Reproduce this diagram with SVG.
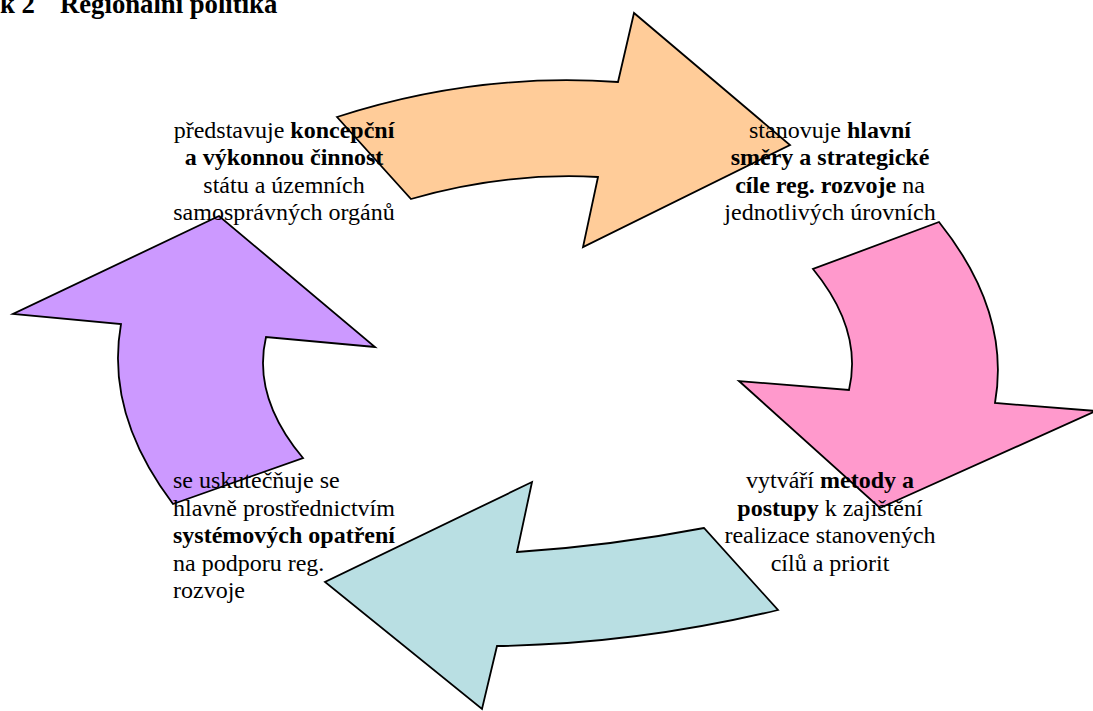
<svg xmlns="http://www.w3.org/2000/svg" width="1093" height="711" viewBox="0 0 1093 711">
<style>
.shape{stroke:#000;stroke-width:1.8;stroke-linejoin:miter}
.t{font-family:"Liberation Serif","Times New Roman",serif;font-size:24px;fill:#000}
.c{text-anchor:middle}
.b{font-weight:bold}
.title{font-family:"Liberation Serif","Times New Roman",serif;font-size:26.7px;font-weight:bold;fill:#000}
</style>
<rect width="1093" height="711" fill="#fff"/>
<g id="title">
<text class="title" x="0" y="13">k 2</text>
<text class="title" x="60" y="13">Regionální politika</text>
</g>
<g id="connectors">
<path id="arrow-orange" class="shape" fill="#FFCC99" d="M337,117 Q476,72 618,82 L634,13 L790,145 L583,247 L598,177 Q505,172 411,199 Z"/>
<path id="arrow-pink" class="shape" fill="#FF99CC" d="M939,222 Q1011,312 995,403 L1096,411 L880,508 L739,381 L849,390 Q863,330 813,269 Z"/>
<path id="arrow-cyan" class="shape" fill="#B9DFE3" d="M704,528 Q610,546 517,552 L532,482 L325,582 L482,709 L497,646 Q637,644 778,610 Z"/>
<path id="arrow-purple" class="shape" fill="#CC99FF" d="M219,216 L13,314 L121,324 Q105,414 173,504 L303,458 Q252,397 266,337 L375,347 Z"/>
</g>
<g id="node-top-left">
<text class="t c" x="284" y="137.5">představuje <tspan class="b">koncepční</tspan></text>
<text class="t c b" x="284" y="165">a výkonnou činnost</text>
<text class="t c" x="284" y="192.5">státu a územních</text>
<text class="t c" x="284" y="220">samosprávných orgánů</text>
</g>
<g id="node-top-right">
<text class="t c" x="830" y="137.5">stanovuje <tspan class="b">hlavní</tspan></text>
<text class="t c b" x="830" y="165">směry a strategické</text>
<text class="t c" x="830" y="192.5"><tspan class="b">cíle reg. rozvoje</tspan> na</text>
<text class="t c" x="830" y="220">jednotlivých úrovních</text>
</g>
<g id="node-bottom-right">
<text class="t c" x="830" y="488">vytváří <tspan class="b">metody a</tspan></text>
<text class="t c" x="830" y="515.5"><tspan class="b">postupy</tspan> k zajištění</text>
<text class="t c" x="830" y="543">realizace stanovených</text>
<text class="t c" x="830" y="570.5">cílů a priorit</text>
</g>
<g id="node-bottom-left">
<text class="t" x="173" y="488">se uskutečňuje se</text>
<text class="t" x="173" y="515.5">hlavně prostřednictvím</text>
<text class="t b" x="173" y="543">systémových opatření</text>
<text class="t" x="173" y="570.5">na podporu reg.</text>
<text class="t" x="173" y="598">rozvoje</text>
</g>
</svg>
